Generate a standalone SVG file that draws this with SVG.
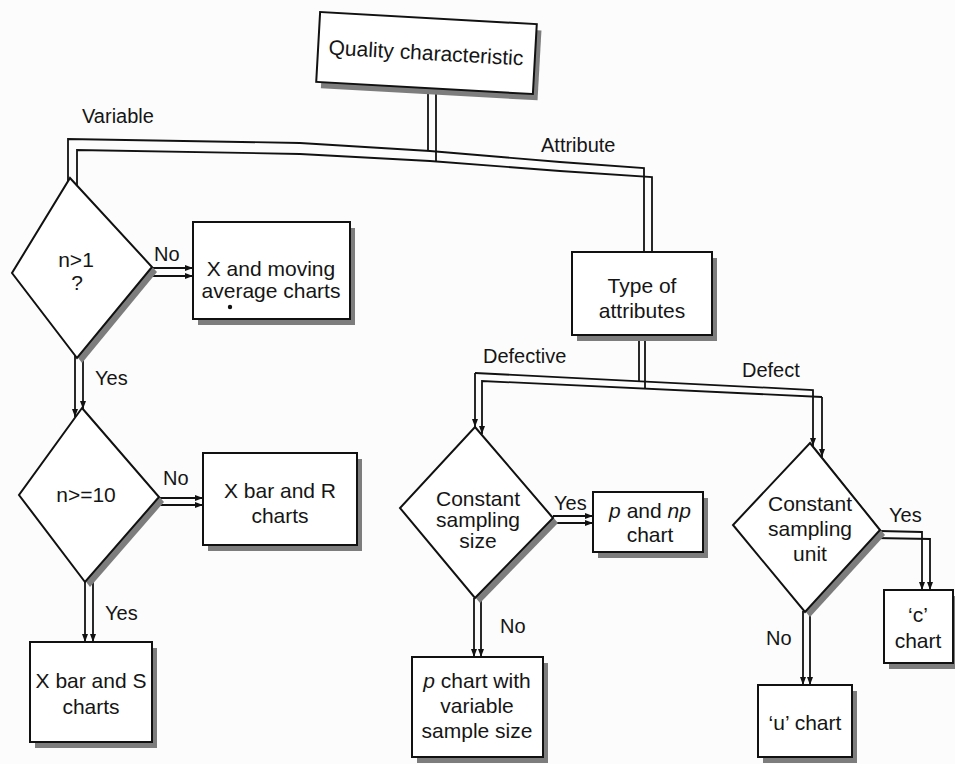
<svg xmlns="http://www.w3.org/2000/svg" width="955" height="764" viewBox="0 0 955 764">
<style>
.bg{fill:#fcfcfc}
.shape{fill:#ffffff;stroke:#111;stroke-width:2}
.shadow{fill:#7d7d7d}
.ln{fill:none;stroke:#111;stroke-width:1.8}
.t{font-family:"Liberation Sans",Arial,sans-serif;font-size:21px;fill:#151515;text-anchor:middle}
.lbl{font-family:"Liberation Sans",Arial,sans-serif;font-size:20px;fill:#151515}
.it{font-style:italic}
</style>
<defs>
<marker id="ah" viewBox="0 0 8 6" refX="8" refY="3" markerWidth="8" markerHeight="6" markerUnits="userSpaceOnUse" orient="auto">
<path d="M0,0 L8,3 L0,6 z" fill="#111"/>
</marker>
</defs>
<rect class="bg" x="0" y="0" width="955" height="764"/>

<g id="connectors">
<!-- Quality stem -->
<line class="ln" x1="428" y1="88" x2="428" y2="151"/>
<line class="ln" x1="436" y1="89" x2="436" y2="161"/>
<!-- Variable / Attribute split -->
<polyline class="ln" points="68,182 68,139 300,143 430,151 560,162 644,168 644,252"/>
<polyline class="ln" points="77,186 77,150 300,154 430,161 560,171 652,177 652,252"/>
<!-- n>1 No -->
<line class="ln" x1="152" y1="268" x2="193" y2="268" marker-end="url(#ah)"/>
<line class="ln" x1="146" y1="276" x2="193" y2="276" marker-end="url(#ah)"/>
<!-- n>1 Yes -->
<line class="ln" x1="75" y1="355" x2="75" y2="417" marker-end="url(#ah)"/>
<line class="ln" x1="83" y1="351" x2="83" y2="409" marker-end="url(#ah)"/>
<!-- n>=10 No -->
<line class="ln" x1="159" y1="498" x2="203" y2="498" marker-end="url(#ah)"/>
<line class="ln" x1="153" y1="505" x2="203" y2="505" marker-end="url(#ah)"/>
<!-- n>=10 Yes -->
<line class="ln" x1="85" y1="582" x2="85" y2="642" marker-end="url(#ah)"/>
<line class="ln" x1="93" y1="573" x2="93" y2="642" marker-end="url(#ah)"/>
<!-- Type of attributes stem -->
<line class="ln" x1="639" y1="336" x2="639" y2="381"/>
<line class="ln" x1="645" y1="337" x2="645" y2="389"/>
<!-- Defective / Defect split -->
<polyline class="ln" points="475,373 813,390 813,446" marker-end="url(#ah)"/>
<polyline class="ln" points="822,397 482,381 482,434" marker-end="url(#ah)"/>
<line class="ln" x1="475" y1="373" x2="475" y2="427" marker-end="url(#ah)"/>
<line class="ln" x1="822" y1="397" x2="822" y2="457" marker-end="url(#ah)"/>
<!-- Constant sampling size Yes -->
<line class="ln" x1="553" y1="516" x2="593" y2="516" marker-end="url(#ah)"/>
<line class="ln" x1="548" y1="523" x2="593" y2="523" marker-end="url(#ah)"/>
<!-- Constant sampling size No -->
<line class="ln" x1="474" y1="598" x2="474" y2="657" marker-end="url(#ah)"/>
<line class="ln" x1="481" y1="592" x2="481" y2="657" marker-end="url(#ah)"/>
<!-- Constant sampling unit Yes -->
<polyline class="ln" points="880,531 922,532 922,590" marker-end="url(#ah)"/>
<polyline class="ln" points="875,538 930,539 930,590" marker-end="url(#ah)"/>
<!-- Constant sampling unit No -->
<line class="ln" x1="803" y1="611" x2="803" y2="685" marker-end="url(#ah)"/>
<line class="ln" x1="810" y1="606" x2="810" y2="685" marker-end="url(#ah)"/>
</g>

<g id="labels">
<text class="lbl" x="82" y="123">Variable</text>
<text class="lbl" x="541" y="152">Attribute</text>
<text class="lbl" x="154" y="261">No</text>
<text class="lbl" x="95" y="385">Yes</text>
<text class="lbl" x="163" y="485">No</text>
<text class="lbl" x="105" y="620">Yes</text>
<text class="lbl" x="483" y="363">Defective</text>
<text class="lbl" x="742" y="377">Defect</text>
<text class="lbl" x="554" y="510">Yes</text>
<text class="lbl" x="500" y="633">No</text>
<text class="lbl" x="889" y="522">Yes</text>
<text class="lbl" x="766" y="645">No</text>
</g>

<g id="quality">
<g transform="rotate(3.2 426 53)">
<rect class="shadow" x="323" y="24" width="217" height="70"/>
<rect class="shape" x="318" y="18" width="217" height="70"/>
<text class="t" x="426" y="60" font-size="22">Quality characteristic</text>
</g>
</g>

<g id="n_gt_1">
<polygon class="shadow" points="75,183 157,272 82,363 17,278"/>
<polygon class="shape" points="70,178 152,267 77,358 12,273"/>
<text class="t" x="76" y="267">n&gt;1</text>
<text class="t" x="77" y="290">?</text>
</g>

<g id="x_moving">
<rect class="shadow" x="198" y="228" width="157" height="97"/>
<rect class="shape" x="193" y="222" width="157" height="97"/>
<text class="t" x="271" y="276">X and moving</text>
<text class="t" x="271" y="298">average charts</text>
<circle cx="230" cy="307" r="2.2" fill="#111"/>
</g>

<g id="n_ge_10">
<polygon class="shadow" points="87,413 164,502 90,587 24,500"/>
<polygon class="shape" points="82,408 159,497 85,582 19,495"/>
<text class="t" x="86" y="502">n&gt;=10</text>
</g>

<g id="xbar_r">
<rect class="shadow" x="208" y="459" width="154" height="92"/>
<rect class="shape" x="203" y="453" width="154" height="92"/>
<text class="t" x="280" y="498">X bar and R</text>
<text class="t" x="280" y="523">charts</text>
</g>

<g id="xbar_s">
<rect class="shadow" x="35" y="648" width="122" height="100"/>
<rect class="shape" x="30" y="642" width="122" height="100"/>
<text class="t" x="91" y="688">X bar and S</text>
<text class="t" x="91" y="714">charts</text>
</g>

<g id="type_attr">
<rect class="shadow" x="577" y="258" width="140" height="83"/>
<rect class="shape" x="572" y="252" width="140" height="83"/>
<text class="t" x="642" y="293">Type of</text>
<text class="t" x="642" y="318">attributes</text>
</g>

<g id="const_size">
<polygon class="shadow" points="480,432 558,523 480,603 405,513"/>
<polygon class="shape" points="475,427 553,518 475,598 400,508"/>
<text class="t" x="478" y="506">Constant</text>
<text class="t" x="478" y="527">sampling</text>
<text class="t" x="478" y="548">size</text>
</g>

<g id="p_np">
<rect class="shadow" x="598" y="498" width="110" height="60"/>
<rect class="shape" x="593" y="492" width="110" height="60"/>
<text class="t" x="650" y="518"><tspan class="it">p</tspan> and <tspan class="it">np</tspan></text>
<text class="t" x="650" y="542">chart</text>
</g>

<g id="p_variable">
<rect class="shadow" x="417" y="663" width="131" height="100"/>
<rect class="shape" x="412" y="657" width="131" height="100"/>
<text class="t" x="477" y="688"><tspan class="it">p</tspan> chart with</text>
<text class="t" x="477" y="713">variable</text>
<text class="t" x="477" y="738">sample size</text>
</g>

<g id="const_unit">
<polygon class="shadow" points="815,448 885,535 810,617 738,530"/>
<polygon class="shape" points="810,443 880,530 805,612 733,525"/>
<text class="t" x="810" y="511">Constant</text>
<text class="t" x="810" y="536">sampling</text>
<text class="t" x="810" y="561">unit</text>
</g>

<g id="c_chart">
<rect class="shadow" x="889" y="596" width="69" height="73"/>
<rect class="shape" x="884" y="590" width="69" height="73"/>
<text class="t" x="918" y="622">‘c’</text>
<text class="t" x="918" y="648">chart</text>
</g>

<g id="u_chart">
<rect class="shadow" x="763" y="691" width="94" height="72"/>
<rect class="shape" x="758" y="685" width="94" height="72"/>
<text class="t" x="805" y="730">‘u’ chart</text>
</g>
</svg>
